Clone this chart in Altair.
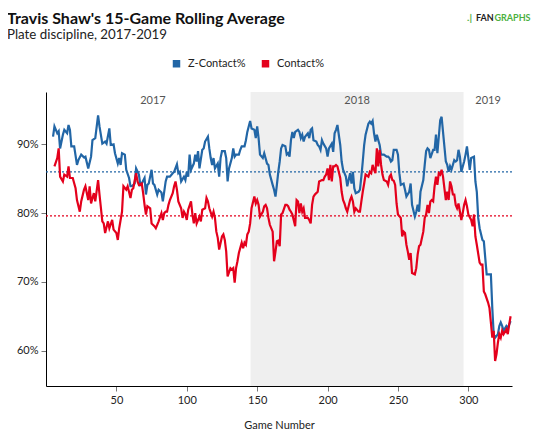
import altair as alt
import pandas as pd

W, H = 466, 294

# ---- data ----
z_games = [5, 6, 8, 9, 10, 12, 13, 15, 16, 17, 18, 20, 22, 23, 25, 27, 28, 30, 32, 33, 35, 37, 38, 40, 42, 43, 45, 46, 48, 49,
           51, 52, 53, 54, 56, 57, 59, 60, 61, 63, 64, 66, 67, 68, 70, 71, 72, 73, 75, 76, 77, 79, 80, 82, 83, 85, 86, 88, 90, 91,
           93, 94, 95, 96, 98, 99, 100, 101, 102, 103, 105, 106, 107, 108, 109, 111, 112, 113, 115, 116, 117, 118, 119, 120, 122, 123, 124, 125, 127, 128,
           129, 130, 132, 133, 134, 135, 137, 138, 139, 141, 142, 143, 145, 146, 148, 149, 150, 151, 152, 154, 155, 157, 158, 159, 161, 162, 163, 164, 165, 166,
           167, 168, 170, 171, 172, 173, 174, 175, 176, 177, 179, 180, 181, 182, 183, 184, 186, 187, 188, 189, 190, 192, 193, 194, 195, 196, 197, 199, 200, 201,
           203, 204, 205, 206, 207, 209, 210, 211, 212, 213, 214, 216, 217, 218, 219, 220, 222, 223, 224, 225, 226, 227, 229, 230, 231, 232, 233, 234, 235, 236,
           237, 238, 239, 240, 242, 243, 244, 245, 246, 247, 249, 250, 251, 252, 254, 255, 256, 258, 259, 260, 262, 263, 264, 265, 266, 268, 269, 270, 271, 272,
           273, 275, 276, 277, 278, 279, 280, 281, 282, 284, 285, 286, 287, 288, 290, 291, 292, 293, 294, 295, 297, 298, 299, 300, 301, 302, 304, 305, 306, 307,
           308, 310, 311, 312, 313, 315, 316, 317, 318, 319, 321, 322, 323, 324, 325, 327, 328, 329, 330]
z_contact = [91.1, 92.6, 91.6, 91.9, 89.4, 91.4, 92.1, 91.6, 92.8, 92.1, 89.7, 89.7, 87.0, 87.7, 88.5, 88.1, 88.2, 86.5, 88.2, 90.6, 90.9, 94.2, 92.6, 90.1, 90.4, 90.1, 92.3, 89.9, 90.0, 88.7,
             87.2, 88.0, 87.0, 88.7, 88.5, 86.3, 85.1, 83.9, 83.9, 84.3, 86.5, 85.6, 84.1, 84.3, 85.1, 82.7, 84.1, 84.3, 86.3, 84.3, 84.1, 82.7, 83.4, 83.0, 81.7, 84.6, 85.3, 85.3, 85.8, 86.0,
             87.1, 85.8, 86.0, 84.6, 85.3, 84.8, 86.0, 85.3, 88.5, 86.3, 87.2, 88.5, 87.5, 89.0, 86.5, 89.2, 89.4, 90.4, 91.1, 89.4, 88.0, 87.0, 88.0, 86.5, 87.2, 85.3, 88.0, 89.0, 89.0, 88.0,
             84.6, 86.5, 88.0, 89.4, 88.2, 88.5, 88.5, 89.2, 89.7, 89.7, 90.6, 91.8, 93.4, 92.3, 92.1, 90.9, 92.6, 90.9, 88.5, 88.0, 88.7, 87.2, 87.0, 85.6, 84.1, 83.4, 82.4, 84.1, 86.0, 87.5,
             89.4, 89.9, 89.7, 88.5, 88.7, 88.2, 90.6, 91.8, 90.9, 91.8, 92.1, 91.8, 90.9, 91.4, 90.4, 91.1, 91.6, 90.9, 92.1, 92.3, 90.6, 90.4, 89.9, 89.7, 89.2, 90.6, 90.1, 89.4, 88.2, 89.4,
             90.1, 88.9, 91.6, 92.1, 92.8, 89.9, 87.5, 86.3, 85.8, 85.3, 83.9, 85.8, 84.3, 86.0, 83.6, 82.9, 83.1, 83.4, 85.3, 87.5, 89.9, 91.4, 93.0, 93.3, 93.0, 93.4, 91.6, 90.4, 91.4, 90.6,
             89.9, 88.5, 88.5, 88.5, 88.2, 88.2, 88.0, 87.5, 87.7, 89.2, 89.2, 88.5, 85.8, 84.1, 84.3, 83.4, 82.4, 83.1, 84.3, 81.2, 79.5, 80.2, 81.2, 80.2, 83.1, 84.8, 87.0, 89.0, 89.4, 89.2,
             88.0, 89.2, 89.2, 91.4, 88.7, 91.1, 93.5, 94.0, 91.8, 87.5, 87.0, 86.0, 86.8, 86.3, 87.7, 87.5, 87.7, 89.2, 88.2, 86.0, 87.5, 88.5, 89.7, 88.0, 86.3, 88.0, 88.2, 84.6, 83.1, 79.3,
             77.8, 76.1, 75.9, 73.5, 71.1, 71.1, 71.1, 66.2, 62.4, 61.9, 62.4, 63.6, 64.1, 63.6, 62.9, 63.6, 63.3, 63.8, 64.3]

c_games = [6, 8, 9, 10, 12, 13, 15, 16, 17, 19, 21, 22, 24, 25, 27, 28, 30, 31, 32, 34, 35, 37, 38, 40, 41, 42, 44, 45, 47, 48,
           50, 51, 52, 54, 55, 57, 58, 60, 61, 62, 64, 65, 66, 68, 69, 70, 71, 72, 74, 75, 77, 78, 79, 80, 82, 83, 84, 85, 86, 87,
           88, 90, 91, 92, 93, 94, 96, 97, 98, 99, 100, 101, 103, 104, 105, 106, 107, 109, 110, 111, 113, 114, 115, 116, 118, 119, 120, 121, 122, 123,
           125, 126, 127, 128, 129, 131, 132, 133, 134, 135, 136, 137, 139, 140, 141, 142, 143, 144, 145, 146, 148, 149, 150, 151, 152, 154, 155, 156, 157, 158,
           159, 161, 162, 163, 164, 165, 166, 167, 168, 170, 171, 172, 173, 174, 175, 177, 178, 179, 180, 181, 182, 183, 184, 186, 187, 188, 189, 190, 191, 192,
           193, 194, 196, 197, 198, 199, 200, 201, 202, 203, 204, 205, 206, 207, 209, 210, 211, 212, 213, 214, 216, 217, 218, 219, 220, 222, 223, 224, 225, 226,
           227, 229, 230, 231, 232, 233, 234, 235, 236, 237, 238, 239, 240, 242, 243, 244, 245, 246, 247, 248, 249, 250, 252, 253, 254, 255, 256, 257, 258, 259,
           260, 262, 263, 264, 265, 266, 268, 269, 270, 271, 272, 273, 274, 275, 276, 277, 278, 279, 280, 281, 282, 284, 285, 286, 287, 288, 289, 290, 291, 292,
           293, 295, 296, 297, 298, 299, 300, 302, 303, 304, 305, 306, 308, 309, 310, 311, 312, 314, 315, 316, 317, 318, 319, 320, 321, 322, 323, 324, 325, 327,
           328, 329, 330]
contact = [86.8, 88.0, 89.4, 85.3, 84.6, 85.6, 85.3, 86.8, 85.1, 85.1, 83.6, 81.9, 80.2, 81.7, 83.4, 83.9, 81.9, 83.9, 81.4, 82.9, 81.7, 84.8, 82.7, 78.8, 78.5, 77.1, 78.8, 77.8, 79.0, 77.6,
           77.1, 76.1, 77.8, 80.2, 83.9, 83.4, 83.9, 82.2, 83.4, 83.6, 85.8, 84.6, 84.1, 84.3, 82.9, 81.2, 79.8, 81.0, 80.7, 78.5, 78.1, 77.8, 78.3, 78.8, 80.0, 79.0, 80.0, 80.2, 80.2, 81.2,
           81.9, 82.9, 83.9, 84.6, 83.4, 81.7, 80.7, 79.3, 80.2, 79.8, 79.0, 80.5, 81.7, 79.8, 78.5, 80.0, 78.5, 79.5, 78.8, 80.5, 80.7, 82.2, 81.7, 80.7, 79.5, 80.2, 79.3, 77.3, 76.4, 74.7,
           76.6, 76.9, 76.1, 74.4, 70.8, 72.0, 71.8, 72.0, 69.9, 72.0, 73.0, 74.2, 75.7, 74.9, 75.7, 75.4, 76.9, 77.3, 78.5, 80.7, 82.4, 81.4, 81.9, 81.2, 79.5, 80.2, 81.0, 81.2, 80.7, 79.3,
           78.3, 77.3, 73.0, 74.4, 75.9, 76.0, 75.2, 79.8, 80.0, 81.2, 81.2, 81.0, 80.5, 80.2, 79.8, 78.1, 81.9, 81.7, 80.0, 81.4, 80.2, 80.7, 79.3, 79.3, 79.0, 78.5, 81.2, 82.4, 82.7, 82.9,
           83.1, 84.6, 84.8, 84.8, 85.3, 85.6, 86.5, 84.8, 87.0, 84.6, 86.8, 86.8, 87.0, 86.8, 85.1, 83.1, 81.9, 81.4, 80.7, 80.2, 81.9, 82.4, 81.7, 80.2, 80.7, 80.2, 80.2, 81.7, 83.1, 84.3,
           85.6, 85.3, 86.0, 85.8, 87.0, 86.3, 85.8, 89.4, 86.8, 89.2, 87.0, 85.6, 84.8, 84.6, 84.1, 85.3, 85.6, 84.8, 84.7, 84.1, 81.4, 79.8, 79.3, 76.6, 77.3, 77.1, 75.4, 74.4, 73.2, 74.2,
           71.3, 71.1, 72.0, 74.0, 75.2, 75.4, 77.3, 79.3, 79.8, 81.2, 80.0, 81.7, 81.9, 81.7, 83.9, 85.3, 84.1, 85.8, 85.6, 86.3, 85.3, 81.9, 83.1, 81.9, 84.6, 83.9, 82.7, 82.7, 81.2, 80.7,
           81.4, 79.0, 80.0, 81.2, 81.9, 81.0, 79.8, 79.0, 78.1, 79.8, 76.6, 75.4, 72.8, 72.5, 72.5, 68.6, 68.2, 67.0, 66.2, 64.1, 61.9, 62.9, 58.5, 59.5, 61.2, 62.4, 61.9, 62.9, 62.4, 63.1,
           62.4, 63.8, 65.0]

series_names = ["Z-Contact%", "Contact%"]
series_colors = ["#2266a6", "#e4001c"]
league_avg = [86.0, 79.6]          # dotted reference lines (Z-Contact%, Contact%)
years = ["2017", "2018", "2019"]
year_label_game = [76, 221, 314]
season_2018 = [145.3, 296.6]
x_ticks = [50, 100, 150, 200, 250, 300]
y_ticks = [60, 70, 80, 90]
x_domain = [0, 331]
y_domain = [54.87, 97.6]

FONT = "Lato"

df_z = pd.DataFrame({"game": z_games, "pct": z_contact})
df_c = pd.DataFrame({"game": c_games, "pct": contact})
df_series = pd.DataFrame({"series": series_names})
df_years = pd.DataFrame({"game": year_label_game, "label": years})
df_2018 = pd.DataFrame({"start": [season_2018[0]], "end": [season_2018[1]]})
one = pd.DataFrame({"k": [0]})

xs = alt.Scale(domain=x_domain, nice=False, zero=False)
ys = alt.Scale(domain=y_domain, nice=False, zero=False)
color_scale = alt.Scale(domain=series_names, range=series_colors)

x_axis = alt.Axis(values=x_ticks, title="Game Number", grid=False, domainColor="#000", domainWidth=1,
                  tickColor="#777", tickSize=5, labelFont=FONT, labelFontSize=11, labelColor="#222",
                  labelPadding=3, titleFont=FONT, titleFontSize=11, titleFontWeight="normal",
                  titleColor="#222", titlePadding=14)
y_axis = alt.Axis(values=y_ticks, title=None, grid=False, domainColor="#000", domainWidth=1,
                  tickColor="#777", tickSize=5, labelFont=FONT, labelFontSize=11, labelColor="#222",
                  labelPadding=3, labelExpr="datum.value + '%'")

legend = alt.Legend(title=None, orient="none", legendX=125, legendY=-34, direction="horizontal",
                    symbolType="square", symbolSize=56, symbolStrokeWidth=0, symbolOpacity=1,
                    labelFont=FONT, labelFontSize=11, labelColor="#222", columnPadding=14, labelOffset=6)

shade = alt.Chart(df_2018).mark_rect(color="#efefef").encode(
    x=alt.X("start:Q", scale=xs, axis=x_axis),
    x2="end:Q",
    y=alt.value(0),
    y2=alt.value(H),
)

year_text = alt.Chart(df_years).mark_text(font=FONT, fontSize=11, color="#555", baseline="middle").encode(
    x=alt.X("game:Q", scale=xs),
    y=alt.value(9),
    text="label:N",
)

rule_z = alt.Chart(pd.DataFrame({"pct": [league_avg[0]]})).mark_rule(
    strokeDash=[2, 2], strokeWidth=1.3, color=series_colors[0]).encode(
    y=alt.Y("pct:Q", scale=ys, axis=y_axis),
)
rule_c = alt.Chart(pd.DataFrame({"pct": [league_avg[1]]})).mark_rule(
    strokeDash=[2, 2], strokeWidth=1.3, color=series_colors[1]).encode(
    y=alt.Y("pct:Q", scale=ys),
)

line_z = alt.Chart(df_z).mark_line(strokeWidth=2.2, color=series_colors[0]).encode(
    x=alt.X("game:Q", scale=xs),
    y=alt.Y("pct:Q", scale=ys),
)
line_c = alt.Chart(df_c).mark_line(strokeWidth=2.2, color=series_colors[1]).encode(
    x=alt.X("game:Q", scale=xs),
    y=alt.Y("pct:Q", scale=ys),
)

# legend-only layer: filled squares, no visible data marks
legend_layer = alt.Chart(df_series).transform_filter("false").mark_square(filled=True, opacity=1).encode(
    color=alt.Color("series:N", scale=color_scale, legend=legend),
)

title_t = alt.Chart(one).mark_text(text="Travis Shaw's 15-Game Rolling Average", font=FONT, fontSize=16,
                                   fontWeight="bold", color="#111", align="left", baseline="alphabetic").encode(
    x=alt.value(-39), y=alt.value(-68.5))
sub_t = alt.Chart(one).mark_text(text="Plate discipline, 2017-2019", font=FONT, fontSize=13.3,
                                 color="#222", align="left", baseline="alphabetic").encode(
    x=alt.value(-39), y=alt.value(-53.5))
logo1 = alt.Chart(one).mark_text(text=".|", font=FONT, fontSize=10, fontWeight="bold", color="#4caf3e",
                                 align="left", baseline="middle").encode(x=alt.value(421), y=alt.value(-74.5))
logo2 = alt.Chart(one).mark_text(text="FAN", font=FONT, fontSize=9, fontWeight="bold", color="#222",
                                 align="left", baseline="middle").encode(x=alt.value(430), y=alt.value(-74.5))
logo3 = alt.Chart(one).mark_text(text="GRAPHS", font=FONT, fontSize=9, fontWeight="bold", color="#4caf3e",
                                 align="left", baseline="middle").encode(x=alt.value(448.5), y=alt.value(-74.5))

chart = alt.layer(shade, year_text, rule_z, rule_c, line_z, line_c, legend_layer,
                  title_t, sub_t, logo1, logo2, logo3).properties(
    width=W, height=H,
    autosize=alt.AutoSizeParams(type="none"),
    padding={"left": 38, "top": 84, "right": 24, "bottom": 44},
    background="white",
).configure_view(stroke=None)

chart.save("out.html", embed_options={"renderer": "svg", "actions": False})
